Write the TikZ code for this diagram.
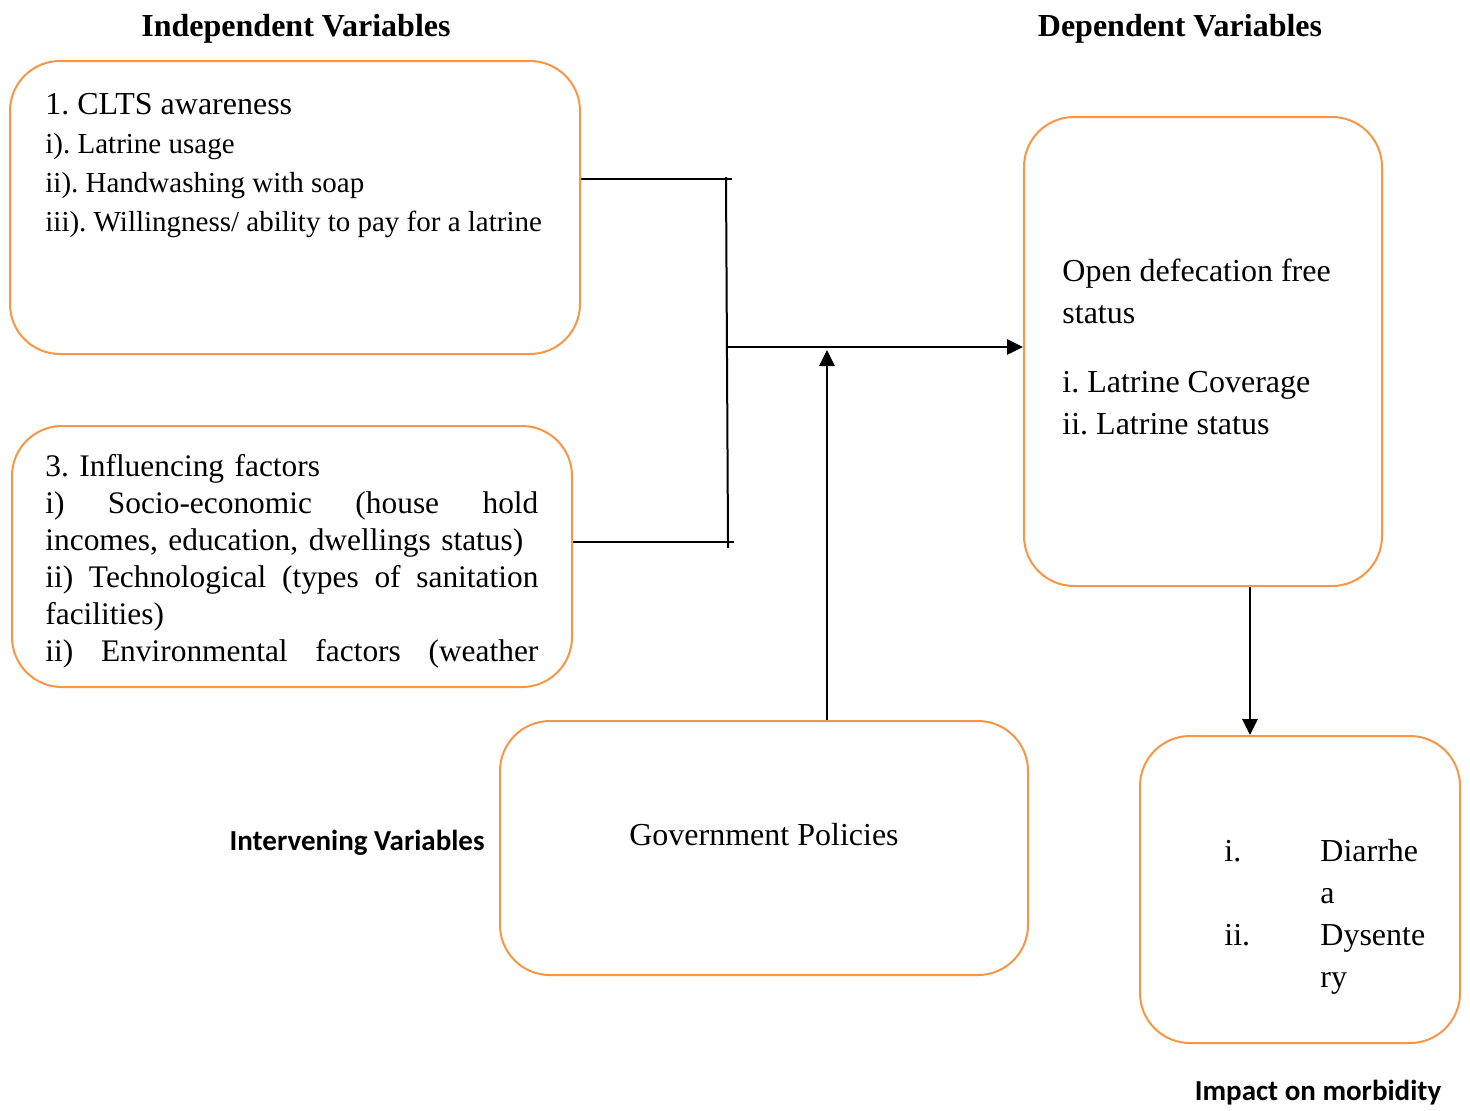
\documentclass[tikz,border=0pt]{standalone}
\usepackage{fontspec}
\setmainfont{Liberation Serif}
\newfontfamily\calibri{Carlito}
\usetikzlibrary{arrows.meta}
\definecolor{boxorange}{HTML}{F79646}
\frenchspacing
\tikzset{
  varbox/.style={draw=boxorange, line width=1pt, rounded corners=25pt, inner sep=0pt},
  boxtext/.style={font=\fontsize{16}{19.5}\selectfont, inner sep=0pt, align=left},
  heading/.style={font=\bfseries\fontsize{16}{19}\selectfont, inner sep=0pt},
  sidelabel/.style={font=\calibri\bfseries\fontsize{14.5}{17}\selectfont, inner sep=0pt},
  link/.style={line width=1pt},
  arr/.style={line width=1.4pt, -{Triangle[length=8pt,width=7.5pt]}}
}
\newcommand{\fullline}[1]{\makebox[246.5pt][l]{#1}}

\begin{document}
\begin{tikzpicture}[x=0.5pt,y=-0.5pt]
\useasboundingbox (0,0) rectangle (1470,1110);

\node[heading, anchor=base] (indep) at (296,36) {Independent Variables};
\node[heading, anchor=base] (dep) at (1180,36) {Dependent Variables};

\node[varbox, minimum width=285pt, minimum height=146.5pt] (clts) at (295,207.5) {};
\node[varbox, minimum width=280pt, minimum height=130.5pt] (factors) at (292,556.5) {};
\node[varbox, minimum width=179pt, minimum height=234.5pt] (outcome) at (1203,351.5) {};
\node[varbox, minimum width=264pt, minimum height=127pt] (policy) at (764,848) {};
\node[varbox, minimum width=160pt, minimum height=153.5pt] (morbid) at (1300,889.5) {};

\node[boxtext, anchor=base west] (cltstext) at (45,231) {1. CLTS awareness\\
  \fontsize{14.5}{19.5}\selectfont i). Latrine usage\\
  \fontsize{14.5}{19.5}\selectfont ii). Handwashing with soap\\
  \fontsize{14.5}{19.5}\selectfont iii). Willingness/ ability to pay for a latrine};
\node[boxtext, anchor=base west, text width=246.5pt, font=\fontsize{15.7}{18.5}\selectfont] (factorstext) at (45,476) {3. Influencing factors\\
  \fullline{i)\hfill Socio-economic\hfill (house\hfill hold}\\
  incomes, education, dwellings status)\\
  \fullline{ii)\hfill Technological\hfill (types\hfill of\hfill sanitation}\\
  facilities)\\
  \fullline{ii)\hfill Environmental\hfill factors\hfill (weather}};
\node[boxtext, anchor=base west, font=\fontsize{16}{21}\selectfont] (outcometext) at (1062,434) {Open defecation free\\
  status\\[13.5pt]
  i. Latrine Coverage\\
  ii. Latrine status};
\node[boxtext] (policytext) at (764,835) {Government Policies};
\node[boxtext, anchor=base west, font=\fontsize{16}{21}\selectfont] (morbidtext) at (1224,925) {\begin{tabular}{@{}p{48pt}@{}l@{}}
  i. & Diarrhe\\
     & a\\
  ii. & Dysente\\
     & ry
  \end{tabular}};

\node[sidelabel, anchor=east] (interv) at (485,843) {Intervening Variables};
\node[sidelabel] (impact) at (1318,1093) {Impact on morbidity};

\coordinate (jtop) at (726,179);
\coordinate (jbot) at (728,542);
\coordinate (jmid) at (728,347);
\coordinate (gov) at (827,721);
\coordinate (down) at (1250,586);

\draw[link, shorten >=-3pt] (clts.east |- jtop) -- (jtop);
\draw[link, shorten >=-3pt] (factors.east |- jbot) -- (jbot);
\draw[link, shorten <=-1pt, shorten >=-3pt] (jtop) -- (jbot);
\draw[arr] (jmid) -- (outcome.west |- jmid);
\draw[arr, shorten >=1.5pt] (gov |- policy.north) -- (gov |- jmid);
\draw[arr] (down |- outcome.south) -- (down |- morbid.north);
\end{tikzpicture}
\end{document}
